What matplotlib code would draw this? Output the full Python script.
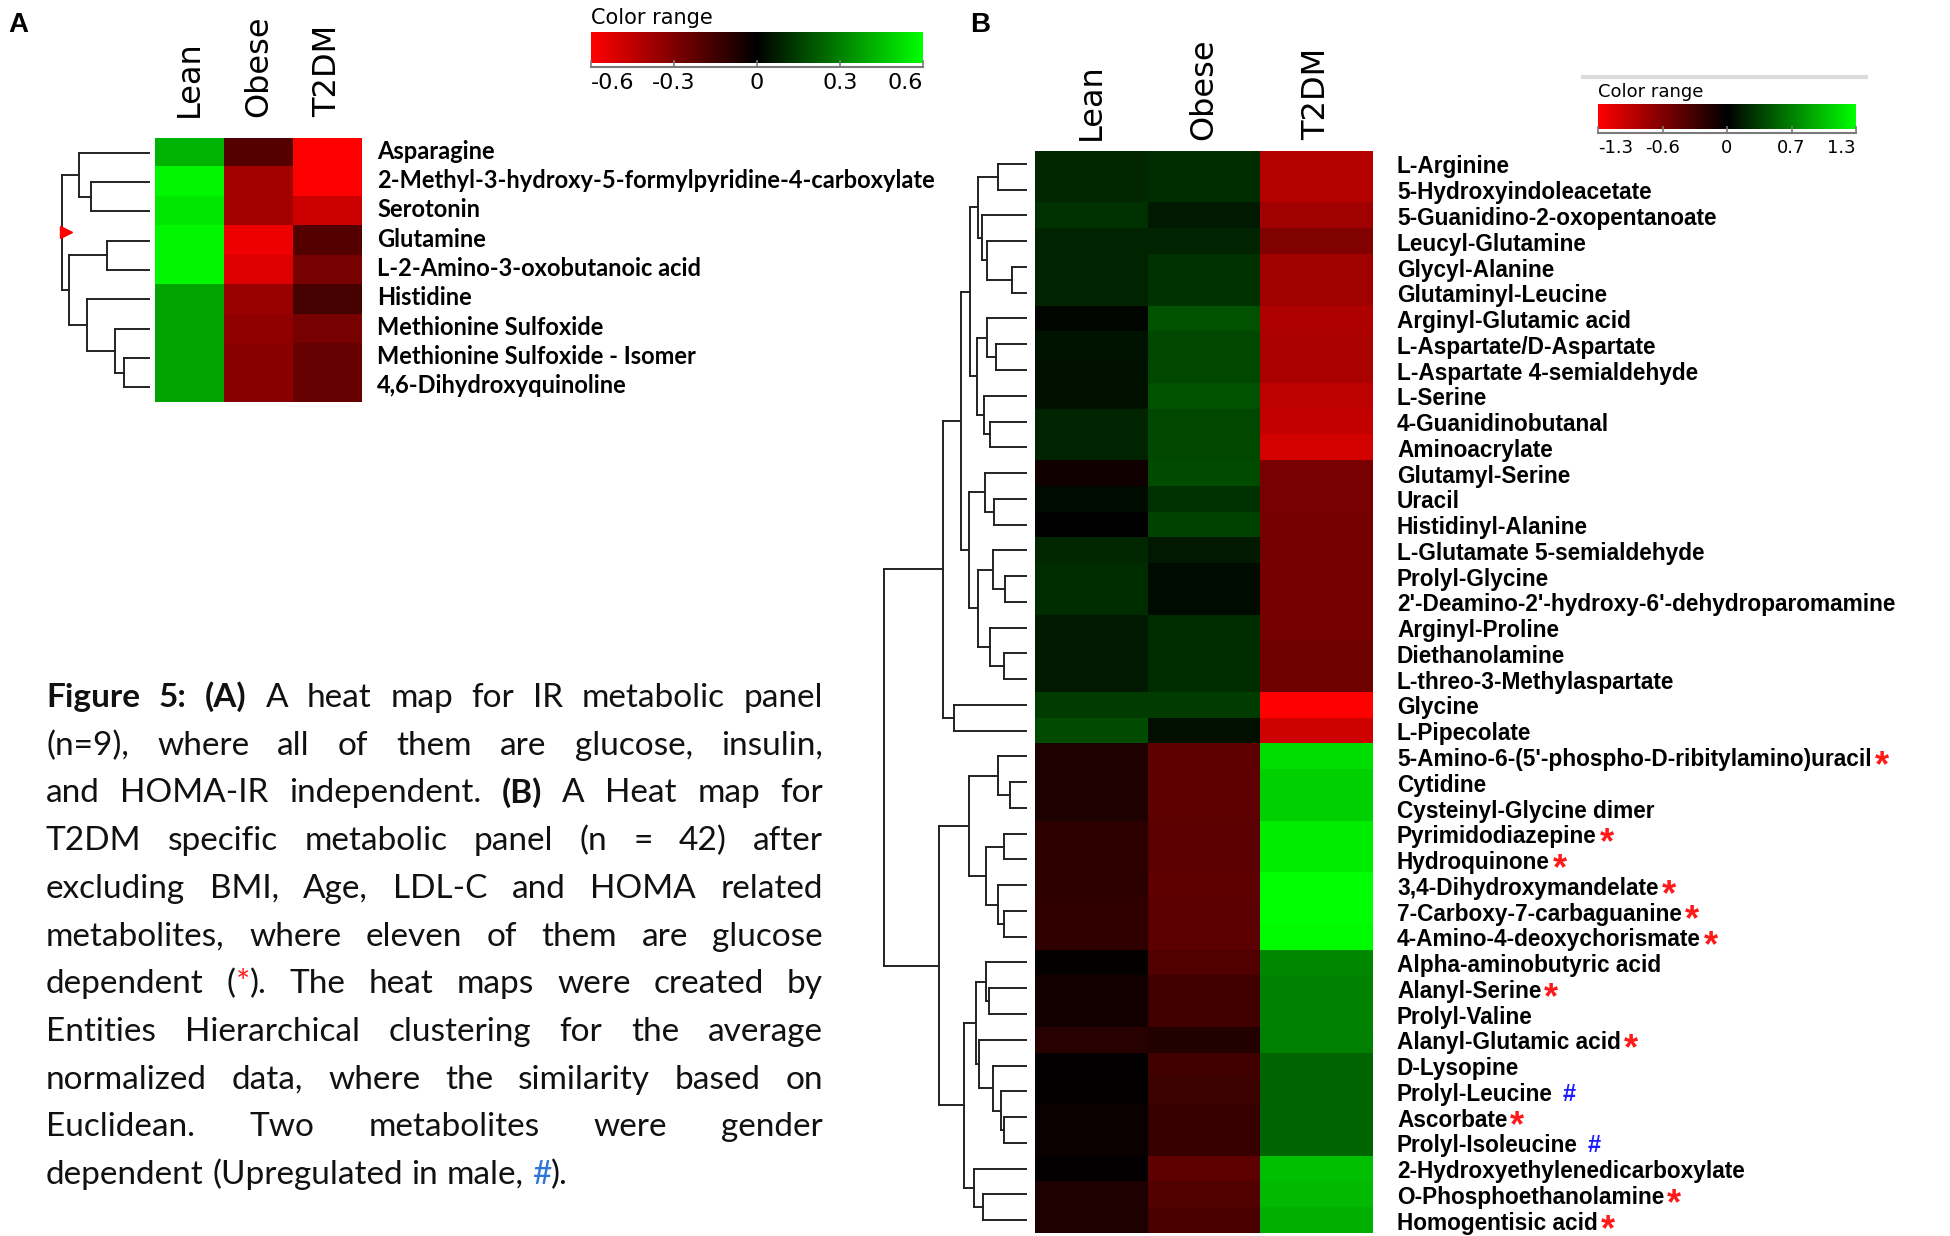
import numpy as np
import matplotlib
matplotlib.use('Agg')
import matplotlib.pyplot as plt
from matplotlib.colors import LinearSegmentedColormap
from matplotlib.lines import Line2D
from matplotlib import font_manager

W, H = 1950, 1236

groups = ['Lean', 'Obese', 'T2DM']

# ---- panel A data ----
a_names = ['Asparagine', '2-Methyl-3-hydroxy-5-formylpyridine-4-carboxylate', 'Serotonin',
           'Glutamine', 'L-2-Amino-3-oxobutanoic acid', 'Histidine', 'Methionine Sulfoxide',
           'Methionine Sulfoxide - Isomer', '4,6-Dihydroxyquinoline']
a_lean = [0.42, 0.58, 0.54, 0.58, 0.58, 0.38, 0.38, 0.38, 0.38]
a_obese = [-0.20, -0.38, -0.38, -0.56, -0.52, -0.36, -0.34, -0.32, -0.32]
a_t2dm = [-0.60, -0.60, -0.48, -0.20, -0.28, -0.16, -0.28, -0.24, -0.24]
# merges (child, child, height)
a_tree = [(1, 2, 58), (0, 9, 70), (3, 4, 42), (7, 8, 25), (6, 12, 34),
          (5, 13, 62), (11, 14, 80), (10, 15, 87)]
a_ticks = [-0.6, -0.3, 0, 0.3, 0.6]
a_ticklabels = ['-0.6', '-0.3', '0', '0.3', '0.6']

# ---- panel B data ----
b_names = ['L-Arginine', '5-Hydroxyindoleacetate', '5-Guanidino-2-oxopentanoate', 'Leucyl-Glutamine',
           'Glycyl-Alanine', 'Glutaminyl-Leucine', 'Arginyl-Glutamic acid', 'L-Aspartate/D-Aspartate',
           'L-Aspartate 4-semialdehyde', 'L-Serine', '4-Guanidinobutanal', 'Aminoacrylate',
           'Glutamyl-Serine', 'Uracil', 'Histidinyl-Alanine', 'L-Glutamate 5-semialdehyde',
           'Prolyl-Glycine', "2'-Deamino-2'-hydroxy-6'-dehydroparomamine", 'Arginyl-Proline',
           'Diethanolamine', 'L-threo-3-Methylaspartate', 'Glycine', 'L-Pipecolate',
           "5-Amino-6-(5'-phospho-D-ribitylamino)uracil", 'Cytidine', 'Cysteinyl-Glycine dimer',
           'Pyrimidodiazepine', 'Hydroquinone', '3,4-Dihydroxymandelate', '7-Carboxy-7-carbaguanine',
           '4-Amino-4-deoxychorismate', 'Alpha-aminobutyric acid', 'Alanyl-Serine', 'Prolyl-Valine',
           'Alanyl-Glutamic acid', 'D-Lysopine', 'Prolyl-Leucine', 'Ascorbate', 'Prolyl-Isoleucine',
           '2-Hydroxyethylenedicarboxylate', 'O-Phosphoethanolamine', 'Homogentisic acid']
b_marks = [''] * 23 + ['*', '', '', '*', '*', '*', '*', '*', '', '*', '', '*', '',
                       '#', '*', '#', '', '*', '*']
b_lean = [0.20, 0.20, 0.25, 0.18, 0.18, 0.18, 0.03, 0.10, 0.09, 0.09, 0.18, 0.18,
          -0.09, 0.06, 0.00, 0.20, 0.23, 0.23, 0.13, 0.13, 0.13, 0.30, 0.38,
          -0.15, -0.15, -0.15, -0.23, -0.23, -0.23, -0.25, -0.25,
          -0.03, -0.10, -0.10, -0.20, -0.02, -0.03, -0.06, -0.06, -0.02, -0.15, -0.15]
b_obese = [0.23, 0.23, 0.13, 0.18, 0.25, 0.25, 0.41, 0.36, 0.36, 0.41, 0.36, 0.36,
           0.38, 0.25, 0.33, 0.13, 0.06, 0.06, 0.23, 0.23, 0.23, 0.30, 0.08,
           -0.48, -0.48, -0.48, -0.46, -0.46, -0.48, -0.46, -0.46,
           -0.41, -0.33, -0.33, -0.18, -0.33, -0.30, -0.28, -0.28, -0.48, -0.41, -0.38]
b_t2dm = [-0.92, -0.92, -0.82, -0.66, -0.82, -0.82, -0.89, -0.87, -0.87, -0.97, -0.99, -1.07,
          -0.61, -0.61, -0.59, -0.59, -0.59, -0.59, -0.59, -0.56, -0.56, -1.30, -1.05,
          1.12, 1.05, 1.05, 1.20, 1.20, 1.30, 1.30, 1.27,
          0.69, 0.66, 0.66, 0.64, 0.51, 0.51, 0.51, 0.51, 0.97, 0.94, 0.89]
b_tree = [(0, 1, 27.7), (4, 5, 14.3), (3, 43, 39.3), (2, 44, 44.3), (42, 45, 47.7),
          (7, 8, 30), (6, 47, 39.3), (10, 11, 35.7), (9, 49, 42.3), (48, 50, 48.7),
          (46, 51, 56), (13, 14, 31.7), (12, 53, 40.7), (16, 17, 21), (15, 55, 32.7),
          (19, 20, 22.3), (18, 57, 36), (56, 58, 47.7), (54, 59, 56.7), (52, 60, 65),
          (21, 22, 71.7), (61, 62, 82.7), (24, 25, 16), (23, 64, 28.3), (26, 27, 22),
          (29, 30, 22.3), (28, 67, 28.3), (66, 68, 40), (65, 69, 57), (32, 33, 36.7),
          (31, 71, 40), (37, 38, 22.3), (36, 73, 25), (35, 74, 33.3), (34, 75, 47.3),
          (72, 76, 50), (40, 41, 43.3), (39, 78, 51.7), (77, 79, 61.7), (70, 80, 86.7),
          (63, 81, 142)]
b_ticks = [-1.3, -0.65, 0, 0.65, 1.3]
b_ticklabels = ['-1.3', '-0.6', '0', '0.7', '1.3']

caption_lines = [
    'Figure 5: (A) A heat map for IR metabolic panel',
    '(n=9), where all of them are glucose, insulin,',
    'and HOMA-IR independent. (B) A Heat map for',
    'T2DM specific metabolic panel (n = 42) after',
    'excluding BMI, Age, LDL-C and HOMA related',
    'metabolites, where eleven of them are glucose',
    'dependent (*). The heat maps were created by',
    'Entities Hierarchical clustering for the average',
    'normalized data, where the similarity based on',
    'Euclidean. Two metabolites were gender',
    'dependent (Upregulated in male, #).',
]
caption_bold = ['Figure', '5:', '(A)', '(B)']

cmap = LinearSegmentedColormap.from_list('red_green', ['#ff0000', '#000000', '#00ff00'])

avail = {f.name for f in font_manager.fontManager.ttflist}
narrow = 'Liberation Sans Narrow' if 'Liberation Sans Narrow' in avail else 'DejaVu Sans'
key_size = 19 if narrow != 'DejaVu Sans' else 16

fig = plt.figure(figsize=(W / 100, H / 100), dpi=100)
renderer = fig.canvas.get_renderer()


def px_axes(x0, y0, x1, y1):
    return fig.add_axes([x0 / W, 1 - y1 / H, (x1 - x0) / W, (y1 - y0) / H])


def heatmap(box, cols, vmax):
    ax = px_axes(*box)
    data = np.array(cols).T
    ax.imshow(data, cmap=cmap, vmin=-vmax, vmax=vmax, aspect='auto',
              interpolation='nearest', extent=[0, 3, len(data), 0])
    ax.set_axis_off()
    return ax


def headers(ax, ypos):
    tr = matplotlib.transforms.blended_transform_factory(ax.transData, ax.transAxes)
    for j, g in enumerate(groups):
        ax.text(j + 0.5, ypos, g, rotation=90, ha='center', va='bottom',
                fontsize=23, transform=tr)


def dendrogram(box, merges, n, reach):
    ax = px_axes(*box)
    ax.set_xlim(reach, 0)
    ax.set_ylim(n, 0)
    ax.set_axis_off()
    ys = {i: i + 0.5 for i in range(n)}
    hs = {i: 0.0 for i in range(n)}
    for k, (a, b, h) in enumerate(merges):
        for c in (a, b):
            ax.plot([hs[c], h], [ys[c], ys[c]], color='#222222', lw=1.4,
                    solid_capstyle='projecting', clip_on=False)
        ax.plot([h, h], [ys[a], ys[b]], color='#222222', lw=1.4,
                solid_capstyle='projecting', clip_on=False)
        ys[n + k] = (ys[a] + ys[b]) / 2
        hs[n + k] = h
    root = n + len(merges) - 1
    return ax, hs[root], ys[root]


def color_key(box, vmax, ticks, labels, title, title_size, label_size):
    cax = px_axes(*box)
    grad = np.linspace(-vmax, vmax, 256)[None, :]
    cax.imshow(grad, cmap=cmap, aspect='auto', extent=[-vmax, vmax, 0, 1])
    cax.set_yticks([])
    for s in ['top', 'left', 'right']:
        cax.spines[s].set_visible(False)
    cax.spines['bottom'].set_color('#7a7a7a')
    cax.spines['bottom'].set_linewidth(1.5)
    cax.spines['bottom'].set_position(('outward', 3))
    cax.set_xticks(ticks, labels)
    cax.tick_params(axis='x', direction='in', length=5, width=1.2, color='#7a7a7a',
                    labelsize=label_size, pad=4)
    tl = cax.get_xticklabels()
    for lab in tl:
        lab.set_family(narrow)
    tl[0].set_ha('left')
    tl[-1].set_ha('right')
    cax.text(0, 1.12, title, transform=cax.transAxes, ha='left', va='bottom',
             fontsize=title_size, family=narrow)
    return cax


# ---------------- panel A ----------------
axa = heatmap((155, 138, 362, 402), [a_lean, a_obese, a_t2dm], 0.6)
headers(axa, 1.08)
for i, name in enumerate(a_names):
    axa.text(3 + 15 / 69, i + 0.45, name, ha='left', va='center', fontsize=17,
             family='Lato', weight='bold')
_, ha_root, ya_root = dendrogram((40, 138, 149, 402), a_tree, len(a_names), 109)
fig.axes[-1].plot(ha_root - 4, ya_root, marker='>', color='red', ms=9,
                  mec='red', clip_on=False)
color_key((591, 32, 923, 63), 0.6, a_ticks, a_ticklabels, 'Color range', 15, key_size)
fig.text(8 / W, 1 - 12 / H, 'A', ha='left', va='top', fontsize=20,
         family='Liberation Sans', weight='bold')

# ---------------- panel B ----------------
axb = heatmap((1035, 151, 1373, 1233), [b_lean, b_obese, b_t2dm], 1.3)
headers(axb, 1.01)
for i, (name, mark) in enumerate(zip(b_names, b_marks)):
    t = axb.text(3 + 24 / 112.7, i + 0.62, name, ha='left', va='center', fontsize=16.3,
                 family='Liberation Sans', weight='bold')
    if mark:
        bb = t.get_window_extent(renderer)
        yc = (bb.y0 + bb.y1) / 2
        if mark == '*':
            fig.text((bb.x1 + 3) / W, (yc - 7) / H, '*', ha='left', va='center',
                     fontsize=26, color='#ff1a1a', family='Liberation Sans', weight='bold')
        else:
            fig.text((bb.x1 + 10) / W, yc / H, '#', ha='left', va='center',
                     fontsize=17, color='#1a1aff', family='Liberation Sans', weight='bold')
dendrogram((870, 151, 1026, 1233), b_tree, len(b_names), 156)
color_key((1598, 104, 1856, 129), 1.3, b_ticks, b_ticklabels, 'Color range', 13,
          key_size - 3)
fig.add_artist(Line2D([1583 / W, 1866 / W], [1 - 77 / H, 1 - 77 / H], color='#dcdcdc', lw=3))
fig.text(970 / W, 1 - 12 / H, 'B', ha='left', va='top', fontsize=20,
         family='Liberation Sans', weight='bold')

# ---------------- caption (justified) ----------------
cap_font, cap_size = 'Lato', 24
x_left, x_right = 46, 823
base0, step = 707, 47.7


def segments(word):
    bold = 'bold' if word in caption_bold else 'normal'
    segs, cur = [], ''
    for ch in word:
        if ch in '*#':
            if cur:
                segs.append((cur, bold, '#111111'))
            segs.append((ch, bold, '#ff2020' if ch == '*' else '#2e75d6'))
            cur = ''
        else:
            cur += ch
    if cur:
        segs.append((cur, bold, '#111111'))
    return segs


def text_width(s, weight):
    t = fig.text(0, 0, s, fontsize=cap_size, family=cap_font, weight=weight)
    w = t.get_window_extent(renderer).width
    t.remove()
    return w


space_w = text_width('a b', 'normal') - text_width('ab', 'normal')
for li, line in enumerate(caption_lines):
    words = [segments(w) for w in line.split(' ')]
    widths = [[text_width(s, wt) for s, wt, _ in segs] for segs in words]
    total = sum(sum(ws) for ws in widths)
    last = li == len(caption_lines) - 1
    gap = space_w if last else (x_right - x_left - total) / (len(words) - 1)
    x = x_left
    yb = 1 - (base0 + li * step) / H
    for segs, ws in zip(words, widths):
        for (s, wt, col), w in zip(segs, ws):
            fig.text(x / W, yb, s, fontsize=cap_size, family=cap_font, weight=wt,
                     color=col, ha='left', va='baseline')
            x += w
        x += gap

fig.savefig('out.png', dpi=100)
